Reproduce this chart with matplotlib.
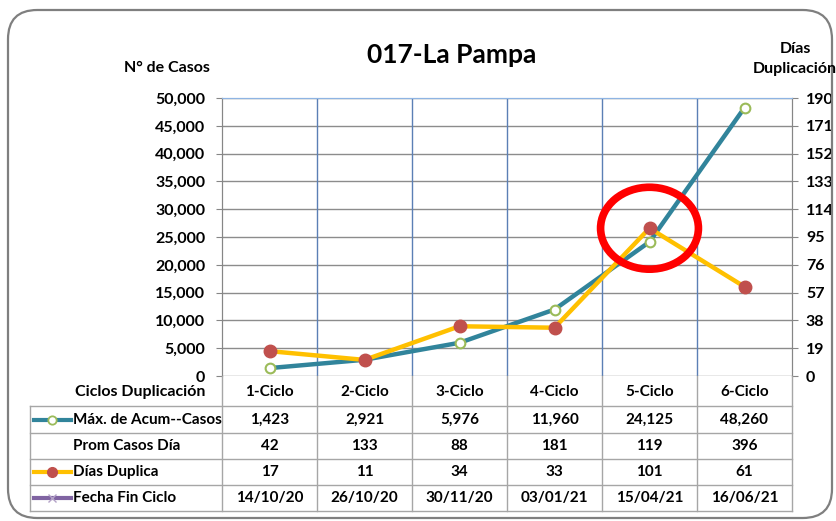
import matplotlib.pyplot as plt
from matplotlib.patches import Ellipse, FancyBboxPatch
from matplotlib.lines import Line2D
import numpy as np

plt.rcParams['font.family'] = ['Lato', 'DejaVu Sans']
plt.rcParams['font.weight'] = 'bold'

ciclos = ['1-Ciclo', '2-Ciclo', '3-Ciclo', '4-Ciclo', '5-Ciclo', '6-Ciclo']
max_casos = [1423, 2921, 5976, 11960, 24125, 48260]
prom_casos = [42, 133, 88, 181, 119, 396]
dias_duplica = [17, 11, 34, 33, 101, 61]
fecha_fin = ['14/10/20', '26/10/20', '30/11/20', '03/01/21', '15/04/21', '16/06/21']

left_ticks = np.arange(0, 50001, 5000)
right_ticks = np.arange(0, 191, 19)

W, H = 836, 521
fig = plt.figure(figsize=(W / 100, H / 100), dpi=100)


def fx(px):
    return px / W


def fy(py):
    return 1 - py / H


# outer rounded frame
frame = FancyBboxPatch((fx(8), fy(518)), fx(824), 1 - (10 + 3) / H,
                       boxstyle='round,pad=0,rounding_size=0.035',
                       transform=fig.transFigure, fill=False,
                       edgecolor='#7f7f7f', linewidth=1.6, mutation_aspect=W / H)
fig.patches.append(frame)

ax = fig.add_axes([fx(222), fy(376), fx(792 - 222), (376 - 98) / H])
ax2 = ax.twinx()

x = np.arange(len(ciclos))
ax.set_xlim(-0.5, len(ciclos) - 0.5)
ax.set_ylim(0, 50000)
ax2.set_ylim(0, 190)

ax.set_yticks(left_ticks)
ax.set_yticklabels([f'{v:,}' for v in left_ticks], fontsize=11.5, fontweight='bold')
ax2.set_yticks(right_ticks)
ax2.set_yticklabels([str(v) for v in right_ticks], fontsize=11.5, fontweight='bold')
ax.set_xticks([])
ax.tick_params(axis='y', length=4, color='#868686', pad=8)
ax2.tick_params(axis='y', length=4, color='#868686', pad=6)

ax.grid(axis='y', color='#8c8c8c', linewidth=1)
for b in np.arange(0.5, len(ciclos) - 1, 1):
    ax.axvline(b, color='#5b7fb5', linewidth=1)
for a in (ax, ax2):
    a.spines['top'].set_color('#8eb4e3')
    a.spines['bottom'].set_visible(False)
    a.spines['left'].set_color('#868686')
    a.spines['right'].set_color('#868686')

ax.plot(x, max_casos, color='#31849b', linewidth=3.2, marker='o', markersize=7,
        markerfacecolor='white', markeredgecolor='#9bbb59', markeredgewidth=1.5, zorder=3)
ax2.plot(x, dias_duplica, color='#ffc000', linewidth=3.2, marker='o', markersize=9,
         markerfacecolor='#c0504d', markeredgecolor='#c0504d', zorder=3)

# highlight ellipse around 5-Ciclo
ax2.add_patch(Ellipse((4, dias_duplica[4]), 1.03, 56, fill=False,
                      edgecolor='#ff0000', linewidth=5.5, zorder=4, clip_on=False))

# titles
fig.text(fx(452), fy(55), '017-La Pampa', ha='center', va='center', fontsize=19, fontweight='bold')
fig.text(fx(167), fy(68), 'N° de Casos', ha='center', va='center', fontsize=11.5, fontweight='bold')
fig.text(fx(795), fy(59), 'Días\nDuplicación', ha='center', va='center', fontsize=11.5,
         fontweight='bold', linespacing=1.5)

# data table
row_lines = [406, 433, 459, 485, 511]
col_lines = [222 + 95 * i for i in range(len(ciclos) + 1)]
lc = '#a6a6a6'
for yy in row_lines:
    fig.add_artist(Line2D([fx(30), fx(792)], [fy(yy), fy(yy)], color=lc, linewidth=1))
fig.add_artist(Line2D([fx(30), fx(30)], [fy(406), fy(511)], color=lc, linewidth=1))
for cx in col_lines:
    fig.add_artist(Line2D([fx(cx), fx(cx)], [fy(376), fy(511)], color=lc, linewidth=1))

fig.text(fx(140), fy(392), 'Ciclos Duplicación', ha='center', va='center', fontsize=11.5, fontweight='bold')
rows = [
    ('Máx. de Acum--Casos', [f'{v:,}' for v in max_casos]),
    ('Prom Casos Día', [str(v) for v in prom_casos]),
    ('Días Duplica', [str(v) for v in dias_duplica]),
    ('Fecha Fin Ciclo', fecha_fin),
]
for i, c in enumerate(ciclos):
    fig.text(fx(col_lines[i] + 47.5), fy(392), c, ha='center', va='center', fontsize=11, fontweight='bold')
for r, (label, vals) in enumerate(rows):
    yc = (row_lines[r] + row_lines[r + 1]) / 2
    fig.text(fx(73), fy(yc), label, ha='left', va='center', fontsize=11, fontweight='bold')
    for i, v in enumerate(vals):
        fig.text(fx(col_lines[i] + 47.5), fy(yc), v, ha='center', va='center', fontsize=11, fontweight='bold')


# legend keys in table
def key(yc, color):
    fig.add_artist(Line2D([fx(34), fx(71)], [fy(yc), fy(yc)], color=color, linewidth=3))


key(420, '#31849b')
fig.add_artist(Line2D([fx(52.5)], [fy(420)], marker='o', markersize=6, markerfacecolor='white',
                      markeredgecolor='#9bbb59', markeredgewidth=1.3, linestyle='none'))
key(472, '#ffc000')
fig.add_artist(Line2D([fx(52.5)], [fy(472)], marker='o', markersize=7, color='#c0504d', linestyle='none'))
key(498, '#8064a2')
fig.add_artist(Line2D([fx(52.5)], [fy(498)], marker='x', markersize=6, color='#b3a2c7', linestyle='none'))

fig.savefig('out.png', dpi=100)
